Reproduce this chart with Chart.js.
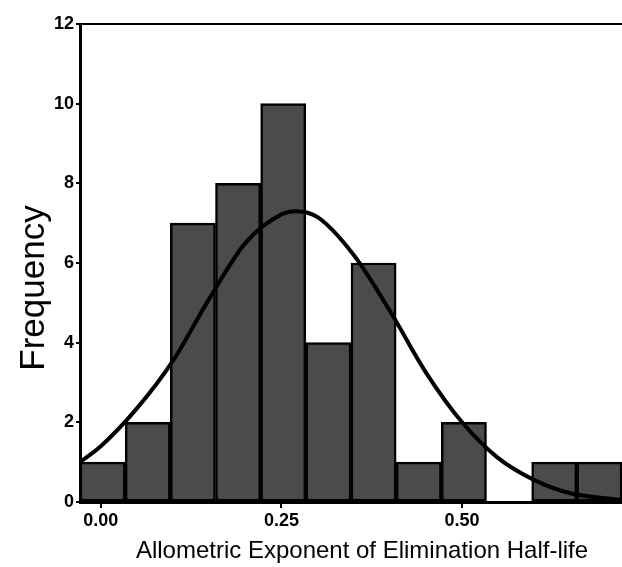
<!DOCTYPE html>
<html>
<head>
<meta charset="utf-8">
<script src="https://cdn.jsdelivr.net/npm/chart.js@4/dist/chart.umd.min.js"></script>
<style>
  html, body { margin: 0; padding: 0; background: #ffffff; }
  #wrap { width: 622px; height: 567px; position: relative; }
</style>
</head>
<body>
<div id="wrap"><canvas id="c" width="622" height="567"></canvas></div>
<script>
// ---- data ----
const binCenters = [0.0025, 0.065, 0.1275, 0.19, 0.2525, 0.315, 0.3775, 0.44, 0.5025, 0.565, 0.6275, 0.69];
const binCounts  = [1, 2, 7, 8, 10, 4, 6, 1, 2, 0, 1, 1];
const curveX = [-0.029, 0.0, 0.05, 0.10, 0.15, 0.20, 0.25, 0.27, 0.30, 0.35, 0.40, 0.45, 0.50, 0.55, 0.60, 0.65, 0.721];
const curveY = [1.0, 1.4, 2.35, 3.55, 5.1, 6.5, 7.22, 7.3, 7.15, 6.2, 4.8, 3.25, 2.0, 1.1, 0.55, 0.22, 0.05];
const xTickValues = [0, 0.25, 0.5];
const xTickLabels = ['0.00', '0.25', '0.50'];
const yTickValues = [0, 2, 4, 6, 8, 10, 12];
const xTitle = 'Allometric Exponent of Elimination Half-life';
const yTitle = 'Frequency';

const X_MIN = -0.02875, X_MAX = 0.72125;
const FONT = '"Liberation Sans", Arial, Helvetica, sans-serif';

const titlesPlugin = {
  id: 'titles',
  afterDraw(chart) {
    const ctx = chart.ctx;
    ctx.save();
    ctx.fillStyle = '#000';
    ctx.textAlign = 'center';
    ctx.textBaseline = 'middle';
    ctx.font = '24px ' + FONT;
    ctx.fillText(xTitle, 362, 551);
    ctx.translate(34, 288);
    ctx.rotate(-Math.PI / 2);
    ctx.font = '35px ' + FONT;
    ctx.fillText(yTitle, 0, 0);
    ctx.restore();
  }
};

new Chart(document.getElementById('c'), {
  data: {
    datasets: [
      {
        type: 'line',
        order: 0,
        data: curveX.map((x, i) => ({ x: x, y: curveY[i] })),
        borderColor: '#000',
        borderWidth: 4,
        pointRadius: 0,
        tension: 0.4,
        cubicInterpolationMode: 'monotone',
        fill: false,
        xAxisID: 'x',
        yAxisID: 'y'
      },
      {
        type: 'bar',
        order: 1,
        data: binCenters.map((x, i) => ({ x: x, y: binCounts[i] })),
        backgroundColor: '#4b4b4b',
        borderColor: '#000',
        borderWidth: 2.5,
        borderSkipped: false,
        barPercentage: 1,
        categoryPercentage: 1,
        xAxisID: 'x',
        yAxisID: 'y'
      }
    ]
  },
  options: {
    responsive: false,
    devicePixelRatio: 1,
    animation: false,
    layout: { padding: { left: 0, right: 0, top: 0, bottom: 0 } },
    plugins: { legend: { display: false }, tooltip: { enabled: false }, title: { display: false } },
    scales: {
      x: {
        type: 'linear',
        position: 'bottom',
        offset: false,
        min: X_MIN,
        max: X_MAX,
        afterBuildTicks: (s) => { s.ticks = xTickValues.map(v => ({ value: v })); },
        afterFit: (s) => { s.height = 65; },
        ticks: {
          color: '#000',
          font: { family: FONT, size: 18, weight: 'bold' },
          padding: 2,
          maxRotation: 0,
          autoSkip: false,
          callback: (v) => { const i = xTickValues.indexOf(v); return i >= 0 ? xTickLabels[i] : ''; }
        },
        grid: { display: true, offset: false, drawOnChartArea: false, drawTicks: true, tickLength: 6, color: '#000', lineWidth: 2 },
        border: { display: true, color: '#000', width: 3 }
      },
      xTop: {
        type: 'linear',
        position: 'top',
        offset: false,
        min: X_MIN,
        max: X_MAX,
        afterFit: (s) => { s.height = 24; },
        ticks: { display: false },
        grid: { display: false, offset: false },
        border: { display: true, color: '#000', width: 2 }
      },
      y: {
        type: 'linear',
        position: 'left',
        min: 0,
        max: 12,
        afterBuildTicks: (s) => { s.ticks = yTickValues.map(v => ({ value: v })); },
        afterFit: (s) => { s.width = 80; },
        ticks: {
          color: '#000',
          font: { family: FONT, size: 18, weight: 'bold' },
          padding: 2,
          autoSkip: false
        },
        grid: { display: true, drawOnChartArea: false, drawTicks: true, tickLength: 4, color: '#000', lineWidth: 2 },
        border: { display: true, color: '#000', width: 3 }
      }
    }
  },
  plugins: [titlesPlugin]
});
</script>
</body>
</html>
